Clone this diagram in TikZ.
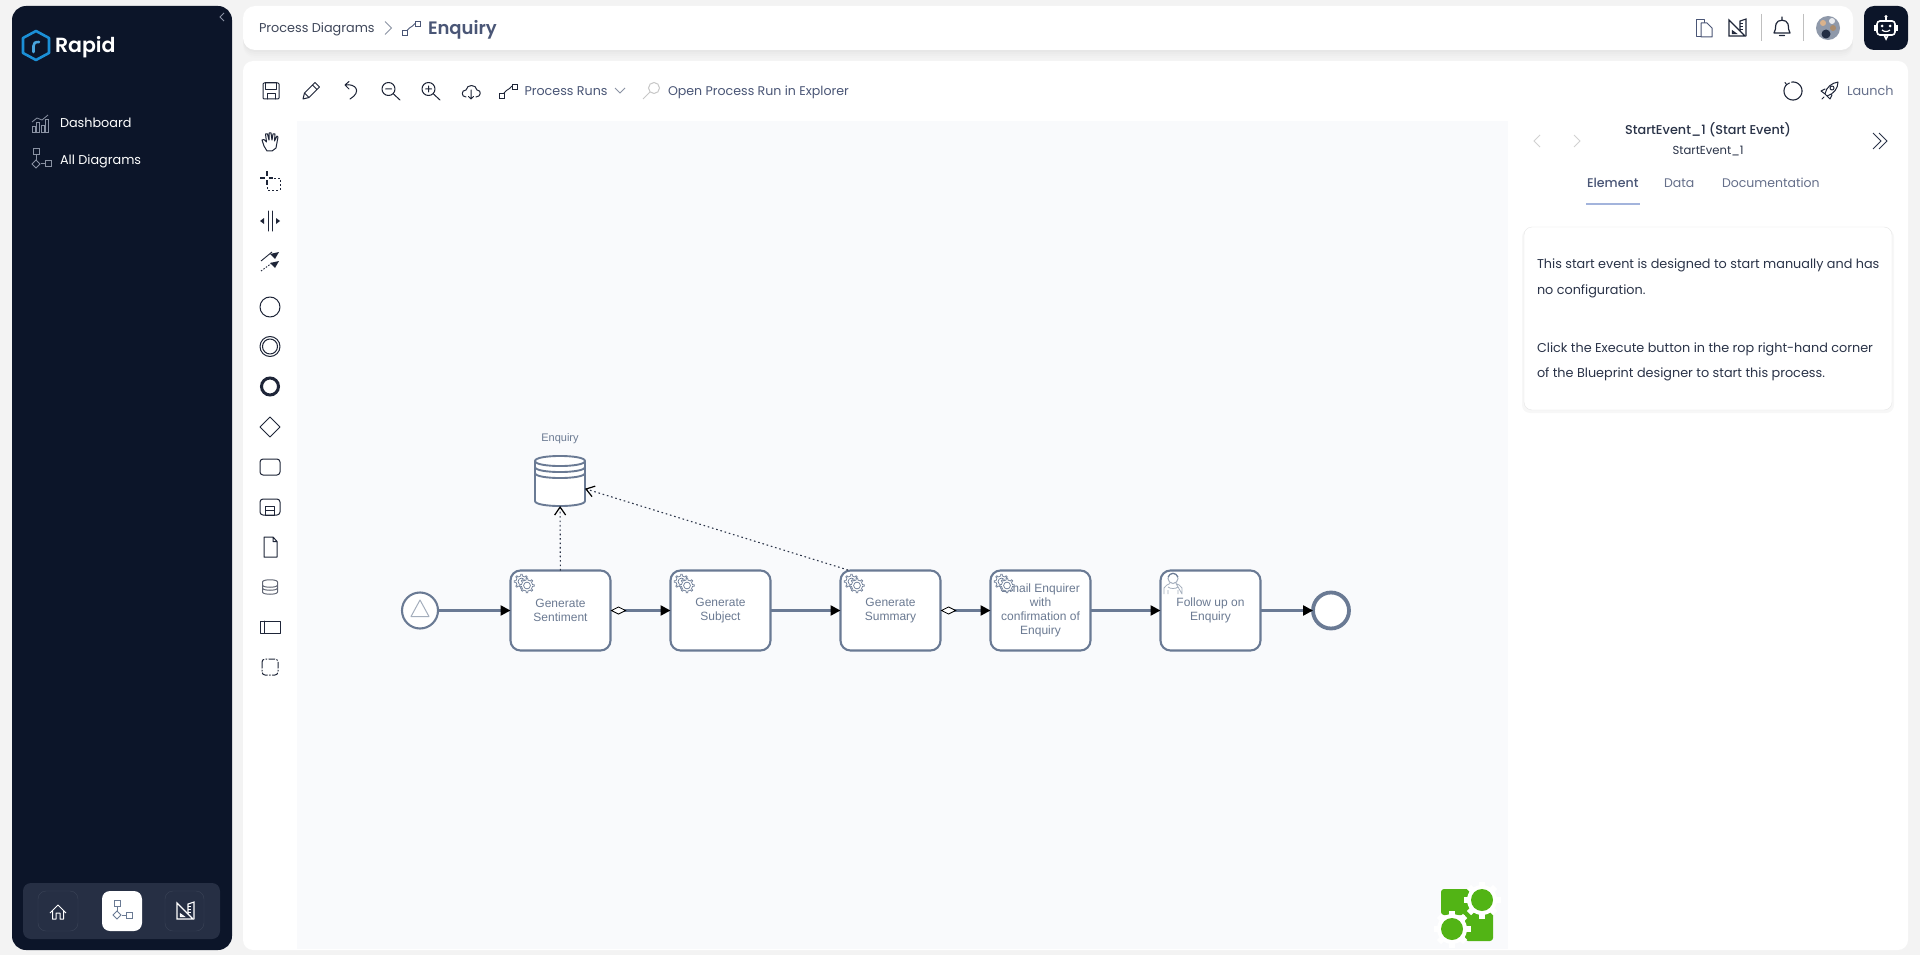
\documentclass[tikz,border=0pt]{standalone}
\usepackage{fontspec}
\setmainfont{Poppins}
\newfontfamily\arialf{Liberation Sans}
\newfontfamily\pmed{Poppins Medium}
\newfontfamily\psemi{Poppins SemiBold}
\usetikzlibrary{arrows.meta,shapes.geometric}
\definecolor{navy}{HTML}{0C1529}
\definecolor{pagebg}{HTML}{F3F3F3}
\definecolor{canvasbg}{HTML}{F9FAFC}
\definecolor{bpmn}{HTML}{6A7A94}
\definecolor{bpmntext}{HTML}{6B7A92}
\definecolor{slatetext}{HTML}{4A5676}
\definecolor{inktext}{HTML}{2A3348}
\definecolor{iconink}{HTML}{1E2538}
\definecolor{sideicon}{HTML}{8A92A3}
\definecolor{navpanel}{HTML}{262F44}
\definecolor{navborder}{HTML}{3A4357}
\definecolor{rapidblue}{HTML}{1B8FD6}
\definecolor{leaf}{HTML}{52B415}
\definecolor{tabline}{HTML}{A3B4DC}
\definecolor{cardline}{HTML}{E6E6E6}
\definecolor{personline}{HTML}{A4AEBC}
\tikzset{
  x=1pt,y=-1pt,
  every node/.style={inner sep=0pt,outer sep=0pt},
  txt/.style={anchor=base west,font=\fontsize{12.8}{15}\selectfont},
  sidetxt/.style={txt,text=white,font=\fontsize{12.8}{15}\selectfont},
  tooltxt/.style={txt,text=slatetext,font=\fontsize{12.7}{15}\selectfont},
  cardtxt/.style={txt,text=inktext,font=\fontsize{12.8}{15}\selectfont},
  tabtxt/.style={txt,text=slatetext!85,font=\fontsize{12.5}{15}\selectfont},
  task/.style={draw=bpmn,fill=white,line width=2.1pt,rounded corners=10pt,minimum width=100pt,minimum height=80pt,align=center,text=bpmntext,font=\arialf\fontsize{12}{14}\selectfont},
  flow/.style={draw=bpmn,line width=2.4pt,-{Triangle[length=10pt,width=10pt,color=black]}},
  assoc/.style={draw=iconink!80!bpmn,line width=1.1pt,dash pattern=on 1.6pt off 2.8pt,-{Straight Barb[length=8pt,width=11pt,line width=1.2pt,color=black]}},
  cond/.style={draw=bpmn,line width=2.4pt,{Diamond[open,fill=white,length=16pt,width=8pt,line width=.8pt,color=black]}-{Triangle[length=10pt,width=10pt,color=black]}},
  ico/.style={draw=iconink,line width=1pt,line cap=round,line join=round},
  pics/gearshape/.style={code={
    \draw[draw=bpmn,fill=white,line width=.7pt] (-9:5.6)
      \foreach \a in {0,45,...,315}{ -- (\a-9:5.6) -- (\a-6:7.4) -- (\a+6:7.4) -- (\a+9:5.6) } -- cycle;
    \draw[draw=bpmn,fill=white,line width=.7pt] (0,0) circle (3.4pt);
  }},
  pics/runs/.style={code={
    \draw[line width=.9pt,draw=#1] (-9,2) rectangle (-4,7) (4,-7) rectangle (9,-2);
    \draw[line width=.9pt,draw=#1] (-4,2) .. controls (-1,-2) and (1,-1) .. (4,-5);
  }},
  pics/setsquare/.style={code={
    \draw[line width=1.1pt,draw=#1,line join=miter] (-8,-8) -- (8,8) -- (-8,8) -- cycle;
    \draw[line width=1.1pt,draw=#1] (-4.5,3) -- (-1,5.5) -- (-4.5,5.5) -- cycle;
    \draw[line width=1.1pt,draw=#1] (3,3) -- (3,-7) -- (9,-9) -- (9,8);
    \draw[line width=.8pt,draw=#1] (3,-5) -- (6,-5) (3,-2) -- (6,-2) (3,1) -- (6,1);
  }},
  pics/flowtree/.style 2 args={code={
    \draw[line width=1pt,draw=#1,fill=#2] (-8,-11) rectangle (-2,-5);
    \draw[line width=1pt,draw=#1] (-5,-5) -- (-5,1) (0,4) -- (5,4);
    \draw[line width=1pt,draw=#1,fill=#2] (-5,0) -- (-1,4) -- (-5,8) -- (-9,4) -- cycle;
    \draw[line width=1pt,draw=#1,fill=#2] (4,1) rectangle (10,7);
  }}
}
\newcommand\twogears[1]{%
  \pic at ([shift={(11,11)}]#1.north west) {gearshape};
  \pic at ([shift={(16.5,15)}]#1.north west) {gearshape};
}
\begin{document}
\begin{tikzpicture}
\useasboundingbox (0,0) rectangle (1920,955);
\fill[pagebg] (0,0) rectangle (1920,955);

% soft shadow of top bar
\foreach \d/\o in {8/.008,6/.01,4/.012,2/.015}{
  \fill[black,opacity=\o,rounded corners=12pt] (243,8) rectangle (1853,50+\d);
}
% panels
\fill[navy,rounded corners=14pt] (12,6) rectangle (232,950);
\fill[white,rounded corners=12pt] (243,6) rectangle (1853,50);
\fill[navy,rounded corners=10pt] (1864,6) rectangle (1908,50);
\fill[white,rounded corners=10pt] (243,61) rectangle (1908,950);
\fill[canvasbg] (297,121) rectangle (1508,949);

% sidebar
\draw[sideicon,line width=.8pt] (224,13) -- (220,17) -- (224,21);
\draw[rapidblue,line width=2.6pt,line join=round] (36,31) -- (49,38) -- (49,53) -- (36,60) -- (23,53) -- (23,38) -- cycle;
\draw[rapidblue!80!white,line width=2.6pt,line cap=round] (33.5,52) -- (33.5,46) .. controls (33.5,43) and (35,42) .. (39,42);
\node[txt,text=white,font=\psemi\fontsize{20.5}{24}\selectfont] (brand) at (55,52.5) {Rapid};
\node[sidetxt] (dash) at (60,127.5) {Dashboard};
\node[sidetxt] (alld) at (60,164.5) {All Diagrams};
\draw[sideicon,line width=.8pt] (32,126) rectangle (35,132) (36.5,122) rectangle (39.5,132) (41,125) rectangle (44,132) (45.5,119) rectangle (48,132);
\draw[sideicon,line width=.8pt] (32,122) -- (37,118) -- (42,120) -- (48,115);
\begin{scope}[shift={(41,160)},scale=.8]
\pic {flowtree={sideicon}{navy}};
\end{scope}
% bottom nav
\fill[navpanel,rounded corners=8pt] (23,883) rectangle (220,939);
\draw[navborder,rounded corners=8pt] (38,891) rectangle (78,931);
\fill[white,rounded corners=8pt] (102,891) rectangle (142,931);
\draw[navborder,rounded corners=8pt] (165,891) rectangle (204,931);
\draw[white,line width=1pt,line join=round] (50,913) -- (58,905) -- (66,913) (52.5,911) -- (52.5,919) -- (56,919) -- (56,913) -- (60,913) -- (60,919) -- (63.5,919) -- (63.5,911);
\begin{scope}[shift={(122,911)},scale=.85]
\pic {flowtree={bpmn}{white}};
\end{scope}
\begin{scope}[shift={(185,911)}]
\pic {setsquare={white}};
\end{scope}

% breadcrumb
\node[txt,text=inktext!90,font=\fontsize{12.8}{15}\selectfont] (crumb) at (259,32.5) {Process Diagrams};
\draw[sideicon,line width=.8pt] (385,21.5) -- (391.5,28) -- (385,34.5);
\begin{scope}[shift={(411,28.5)}]
\pic {runs={slatetext}};
\end{scope}
\node[txt,text=slatetext,font=\psemi\fontsize{18}{20}\selectfont] (title) at (428,34.5) {Enquiry};

% top right icons
\begin{scope}[shift={(1704,28)}]
\draw[draw=slatetext,line width=1pt,line join=round] (-8,-8) -- (0,-8) -- (0,-5) (-3,9) -- (-8,9) -- (-8,-8);
\draw[draw=slatetext,fill=white,line width=1pt,line join=round] (-3,-5) -- (3,-5) -- (8,0) -- (8,9) -- (-3,9) -- cycle;
\end{scope}
\begin{scope}[shift={(1737,28)}]
\pic {setsquare={iconink}};
\end{scope}
\draw[black!25,line width=.8pt] (1761,14) -- (1761,41) (1803,14) -- (1803,41);
\draw[ico,line width=1.2pt] (1774,33) .. controls (1776,31) and (1775,28) .. (1776,24) .. controls (1777,19) and (1787,19) .. (1788,24) .. controls (1789,28) and (1788,31) .. (1790,33) -- cycle (1779.5,35.5) -- (1784.5,35.5) (1782,17) -- (1782,20);
\fill[black!10!bpmn!70!white] (1828,28) circle (12pt);
\fill[brown!60!white] (1823,23) circle (3pt);
\fill[white!85!bpmn] (1832,21) circle (3pt);
\fill[navy!75!bpmn] (1826,34) circle (4.5pt);
\fill[brown!70!black!70!white] (1833,28) circle (3pt);
% bot button
\draw[white,line width=1.6pt,rounded corners=3pt] (1877,21) rectangle (1895,35);
\draw[white,line width=1.6pt] (1886,21) -- (1886,17) (1884,35) -- (1886,39) -- (1888,35);
\fill[white] (1886,16.5) circle (1.6pt) (1882,26) circle (1.5pt) (1890,26) circle (1.5pt);
\draw[white,line width=1.2pt] (1882,30) .. controls (1884,32) and (1888,32) .. (1890,30);
\draw[white,line width=1.6pt] (1875,25) -- (1875,31) (1897,25) -- (1897,31);

% toolbar icons
\draw[ico,rounded corners=1pt] (263,83) rectangle (279,99);
\draw[ico] (265.5,83) rectangle (276.5,89.5);
\draw[ico] (267,99) -- (267,94) -- (275,94) -- (275,99);
\draw[ico] (303,99) -- (304.5,93) -- (315,82.5) -- (319.5,87) -- (309,97.5) -- cycle (304.5,93) -- (309,97.5) (312.5,85) -- (317,89.5);
\draw[ico] (350,99) .. controls (362,92) and (356,83) .. (345,85) (349,81.5) -- (345,85) -- (349,89);
\draw[ico] (388.5,89) circle (6.5pt) (393.5,94) -- (400,100) (385.5,89) -- (391.5,89);
\draw[ico] (428.5,89) circle (6.5pt) (433.5,94) -- (440,100) (425.5,89) -- (431.5,89) (428.5,86) -- (428.5,92);
\draw[ico] (466,97) .. controls (461,97) and (461,90) .. (466,90) .. controls (467,84) and (476,84) .. (477,90) .. controls (482,90) and (481,97) .. (476,97) (471,90) -- (471,99) (468.5,96.5) -- (471,99) -- (473.5,96.5);
\begin{scope}[shift={(508,91)}]
\pic {runs={iconink}};
\end{scope}
\node[tooltxt] (runs) at (524.5,95.5) {Process Runs};
\draw[sideicon,line width=.8pt] (615,88) -- (620,93) -- (625,88);
\draw[black!22,line width=1pt] (654,88) circle (5.5pt) (650,92) -- (643,99);
\node[tooltxt,font=\fontsize{12.6}{15}\selectfont] (explorer) at (668,95.5) {Open Process Run in Explorer};
% refresh, rocket
\draw[ico,line width=1.1pt] plot[smooth,domain=-100:225,samples=40,variable=\t] ({1793+9*cos(\t)},{91+9*sin(\t)});
\draw[ico] (1785,82.5) -- (1786.6,84.6) -- (1789.5,83);
\draw[ico] (1825,94) .. controls (1826,87) and (1832,83) .. (1838,82) .. controls (1838,88) and (1834,94) .. (1827,96) -- cycle (1825,89) -- (1821,91) -- (1825,94) (1832,95) -- (1830,99) -- (1827,96) (1824,97) -- (1822,99);
\draw[ico] (1832,88) circle (2pt);
\node[tooltxt,font=\fontsize{12.8}{15}\selectfont,text=slatetext!85] (launch) at (1847,95.5) {Launch};

% left tool palette
\draw[ico] (264,146) -- (262,140) -- (264,139.5) -- (266.5,142) -- (265.5,134) -- (267.5,134) -- (269,140) -- (269,133) -- (271,133) -- (272,140) -- (273,134) -- (275,134) -- (274.5,141) -- (277,136) -- (278,137) -- (276,148) -- (272,151) -- (267,151) -- cycle;
\draw[iconink,line width=2pt] (260,178) -- (264.5,178) (268.5,178) -- (273,178) (266.5,171.5) -- (266.5,176) (266.5,180) -- (266.5,184.5);
\draw[iconink,line width=.9pt,dash pattern=on 2pt off 2pt] (270,178) -- (280,178) -- (280,190) -- (267,190) -- (267,186);
\draw[ico] (268,211) -- (268,231) (272,211) -- (272,231);
\fill[iconink] (260,221) -- (264,218) -- (264,224) -- cycle (280,221) -- (276,218) -- (276,224) -- cycle;
\draw[iconink,line width=.9pt] (261,261) -- (272,252);
\draw[iconink,line width=.9pt,dash pattern=on 1.5pt off 1.5pt] (261,271) -- (272,263);
\fill[iconink] (279,252) -- (270,254) -- (275,259) -- cycle (279,261) -- (270,263) -- (275,268) -- cycle;
\draw[ico] (270,307) circle (10pt);
\draw[ico] (270,346.5) circle (10pt) (270,346.5) circle (7.5pt);
\draw[iconink,line width=3pt] (270,386.5) circle (8.5pt);
\draw[ico] (270,417) -- (280,427) -- (270,437) -- (260,427) -- cycle;
\draw[ico,rounded corners=3pt] (260,459) rectangle (280,475);
\draw[ico,rounded corners=3pt] (260,499) rectangle (280,515);
\draw[ico] (265.5,506) rectangle (274.5,515) (265.5,510) -- (274.5,510);
\draw[ico] (264,537) -- (273,537) -- (277,541.5) -- (277,557) -- (264,557) -- cycle (273,537) -- (273,541.5) -- (277,541.5);
\draw[ico,draw=iconink!70] (262.5,582) .. controls (262.5,579) and (277.5,579) .. (277.5,582) -- (277.5,592) .. controls (277.5,595) and (262.5,595) .. (262.5,592) -- cycle (262.5,585) .. controls (262.5,588) and (277.5,588) .. (277.5,585) (262.5,588) .. controls (262.5,591) and (277.5,591) .. (277.5,588);
\draw[ico] (260,621) rectangle (280,633) (264,621) -- (264,633);
\draw[ico,rounded corners=3pt,dash pattern=on 6pt off 2pt on 1pt off 2pt] (262,659) rectangle (278,675);

% right panel
\draw[black!18,line width=.8pt] (1540,135) -- (1534,141) -- (1540,147) (1574,135) -- (1580,141) -- (1574,147);
\draw[inktext,line width=.9pt] (1873,133) -- (1881,141) -- (1873,149) (1879,133) -- (1887,141) -- (1879,149);
\node[anchor=base,text=inktext,font=\pmed\fontsize{12.8}{15}\selectfont] (elname) at (1708,135) {StartEvent\_1 (Start Event)};
\node[anchor=base,text=inktext,font=\fontsize{11.6}{14}\selectfont] (elid) at (1708,155) {StartEvent\_1};
\node[tabtxt,text=slatetext,font=\pmed\fontsize{12.6}{15}\selectfont] (tabel) at (1587,187.5) {Element};
\node[tabtxt] (tabda) at (1664,187.5) {Data};
\node[tabtxt] (tabdo) at (1722,187.5) {Documentation};
\fill[tabline] (1586,203) rectangle (1640,205);
\fill[black,opacity=.03,rounded corners=8pt] (1522,229) rectangle (1894,413);
\draw[cardline,fill=white,rounded corners=8pt] (1524,227) rectangle (1892,410);
\node[cardtxt] (c1) at (1537,268.5) {This start event is designed to start manually and has};
\node[cardtxt] (c2) at (1537,294) {no configuration.};
\node[cardtxt] (c3) at (1537,352.5) {Click the Execute button in the rop right-hand corner};
\node[cardtxt] (c4) at (1537,377.5) {of the Blueprint designer to start this process.};

% BPMN diagram
\node[circle,draw=bpmn,fill=white,line width=2.1pt,minimum size=36pt] (start) at (420,610.5) {};
\draw[personline,line width=1pt,line join=round] (420,600) -- (429,616.5) -- (411,616.5) -- cycle;
\node[task] (t1) at (560.5,610.5) {Generate\\Sentiment};
\node[task] (t2) at (720.5,610.5) {Generate\\Subject};
\node[task] (t3) at (890.5,610.5) {Generate\\Summary};
\node[task] (t4) at (1040.5,610.5) {Email Enquirer\\with\\confirmation of\\Enquiry};
\node[task] (t5) at (1210.5,610.5) {Follow up on\\Enquiry};
\node[circle,draw=bpmn,fill=white,line width=3.8pt,minimum size=36pt] (end) at (1331,610.5) {};
\node[minimum width=50pt,minimum height=50pt] (db) at (560,481) {};
\node[text=bpmntext,font=\arialf\fontsize{11}{13}\selectfont] (dblabel) at (560,438.5) {Enquiry};
\coordinate (t3out) at (848,570);

\draw[draw=bpmn,fill=white,line width=1.9pt] (535,461) .. controls (535,454.3) and (585,454.3) .. (585,461) -- (585,501) .. controls (585,507.7) and (535,507.7) .. (535,501) -- cycle;
\draw[draw=bpmn,line width=1.9pt] (535,461) .. controls (535,467.7) and (585,467.7) .. (585,461) (535,467) .. controls (535,473.7) and (585,473.7) .. (585,467) (535,473) .. controls (535,479.7) and (585,479.7) .. (585,473);

\twogears{t1}
\twogears{t2}
\twogears{t3}
\twogears{t4}
\draw[personline,line width=.8pt,line join=round] (1164,594) -- (1164,588) .. controls (1165,585) and (1168,585) .. (1170,583.5) (1176,583.5) .. controls (1178,585) and (1181,585) .. (1182,588) -- (1182,594) -- cycle (1168,590) -- (1168,594) (1178,590) -- (1178,594) (1168,587) .. controls (1170,589) and (1176,589) .. (1178,587);
\draw[personline,line width=1pt] (1173,578.5) circle (5pt);
\draw[bpmn,line width=1pt] (1168,577) .. controls (1170,572) and (1176,572) .. (1178,577);

\draw[flow] (start) -- (t1);
\draw[cond] (t1) -- (t2);
\draw[flow] (t2) -- (t3);
\draw[cond] (t3) -- (t4);
\draw[flow] (t4) -- (t5);
\draw[flow] (t5) -- (end);
\draw[assoc] (t1) -- (db);
\draw[assoc] (t3out) -- (db);

% logo
\fill[white] (1441,889) rectangle (1493,941);
\fill[leaf,rounded corners=3pt] (1441,889) rectangle (1470,915);
\fill[leaf,rounded corners=3pt] (1465,912) rectangle (1493,941);
\foreach \cx/\cy in {1482/900,1452/929}{
  \fill[white] (\cx,\cy) circle (15pt);
  \foreach \a in {0,45,...,315}{ \fill[white,shift={(\cx,\cy)},rotate=\a] (13,-3) rectangle (18.5,3); }
  \fill[leaf] (\cx,\cy) circle (11pt);
}
\end{tikzpicture}
\end{document}
